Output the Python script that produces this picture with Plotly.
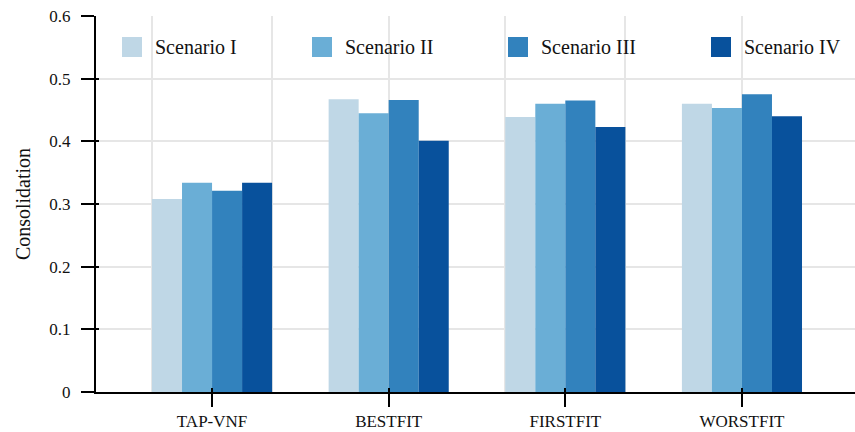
import plotly.graph_objects as go

# Consolidation per placement algorithm under four scenarios
algorithms = ["TAP-VNF", "BESTFIT", "FIRSTFIT", "WORSTFIT"]
scenarios = ["Scenario I", "Scenario II", "Scenario III", "Scenario IV"]
scenario_1 = [0.308, 0.467, 0.439, 0.460]
scenario_2 = [0.334, 0.445, 0.460, 0.453]
scenario_3 = [0.321, 0.466, 0.465, 0.475]
scenario_4 = [0.334, 0.401, 0.423, 0.440]
series = [scenario_1, scenario_2, scenario_3, scenario_4]
colors = ["#bfd7e6", "#6aaed6", "#3282bd", "#08519c"]

y_ticks = [0, 0.1, 0.2, 0.3, 0.4, 0.5, 0.6]
y_tick_text = ["0", "0.1", "0.2", "0.3", "0.4", "0.5", "0.6"]
# vertical grid positions along the category axis
x_grid = [-0.34, 0.34, 1.0, 1.66, 2.34, 3.0]

W, H = 855, 432
L, R, T, B = 96, 0, 16, 40
x_range = [-0.657, 3.64]
y_range = [0, 0.6]
FONT = "Liberation Serif, Times New Roman, serif"

fig = go.Figure()
xs = list(range(len(algorithms)))
for name, vals, col in zip(scenarios, series, colors):
    fig.add_trace(go.Bar(x=xs, y=vals, name=name, marker=dict(color=col, line=dict(width=0)),
                         showlegend=False))

# empty traces carrying the overlay axes
fig.add_trace(go.Scatter(x=[None], y=[None], xaxis="x2", yaxis="y", showlegend=False, hoverinfo="skip"))
fig.add_trace(go.Scatter(x=[None], y=[None], xaxis="x3", yaxis="y2", showlegend=False, hoverinfo="skip"))

fig.update_layout(
    width=W, height=H,
    margin=dict(l=L, r=R, t=T, b=B, pad=0),
    paper_bgcolor="white", plot_bgcolor="white",
    font=dict(family=FONT, size=17, color="#111111"),
    barmode="group", bargap=0.32, bargroupgap=0,
    xaxis=dict(range=x_range, tickmode="array", tickvals=xs, ticktext=algorithms,
               showgrid=False, zeroline=False, showline=True, linecolor="black", linewidth=2,
               ticks="outside", ticklen=13, tickwidth=2, tickcolor="black",
               tickfont=dict(size=17, family=FONT)),
    xaxis2=dict(range=x_range, overlaying="x", anchor="y", tickmode="array", tickvals=x_grid,
                showgrid=True, gridcolor="#e6e6e6", gridwidth=2, showticklabels=False,
                ticks="", zeroline=False, showline=False),
    xaxis3=dict(range=x_range, overlaying="x", anchor="y", tickmode="array", tickvals=xs,
                showgrid=False, showticklabels=False, ticks="inside", ticklen=4, tickwidth=2,
                tickcolor="black", zeroline=False, showline=False, side="bottom"),
    yaxis=dict(range=y_range, tickmode="array", tickvals=y_ticks, ticktext=y_tick_text,
               showgrid=True, gridcolor="#e6e6e6", gridwidth=2, zeroline=False,
               showline=True, linecolor="black", linewidth=2,
               ticks="outside", ticklen=13, tickwidth=2, tickcolor="black",
               ticklabelstandoff=7,
               tickfont=dict(size=17, family=FONT),
               title=dict(text="Consolidation", font=dict(size=20, family=FONT), standoff=13)),
    yaxis2=dict(range=y_range, overlaying="y", anchor="x", side="left", tickmode="array",
                tickvals=y_ticks, showgrid=False, showticklabels=False, ticks="inside",
                ticklen=3, tickwidth=2, tickcolor="black", zeroline=False, showline=False),
)

# legend row: swatches and labels
pw, ph = W - L - R, H - T - B
def px_x(p):
    return (p - L) / pw
def px_y(p):
    return 1 - (p - T) / ph

swatch_left = [122, 312, 508, 711]
for name, col, sx in zip(scenarios, colors, swatch_left):
    fig.add_shape(type="rect", xref="paper", yref="paper",
                  x0=px_x(sx), x1=px_x(sx + 20), y0=px_y(57), y1=px_y(37),
                  fillcolor=col, line=dict(width=0))
    fig.add_annotation(xref="paper", yref="paper", x=px_x(sx + 31), y=px_y(47),
                       text=name, showarrow=False, xanchor="left", yanchor="middle",
                       font=dict(size=20, family=FONT, color="#111111"))

fig.write_html("out.html")
